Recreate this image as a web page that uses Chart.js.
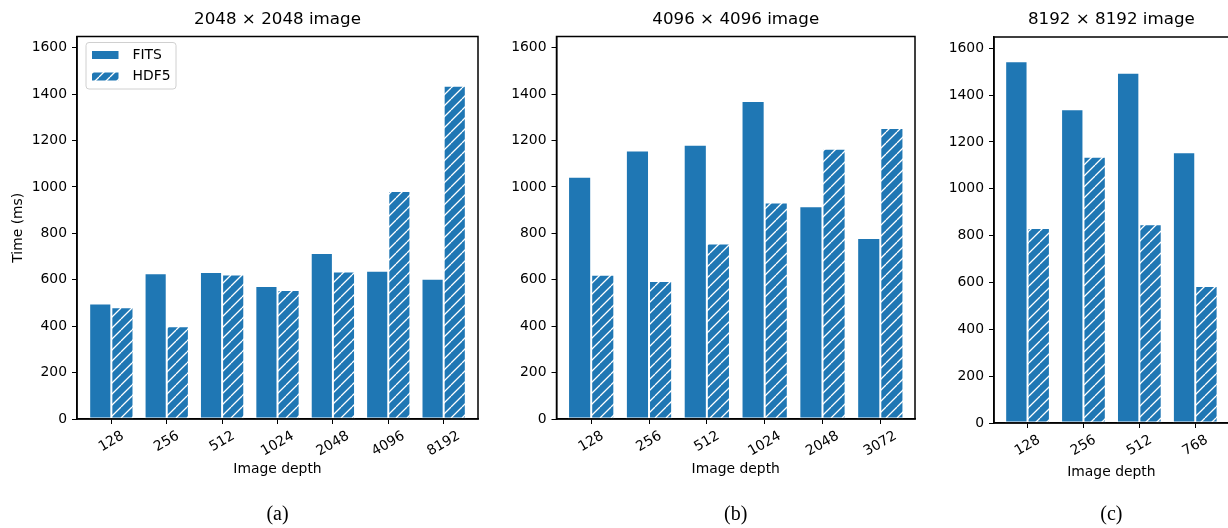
<!DOCTYPE html>
<html><head><meta charset="utf-8">
<script src="https://cdn.jsdelivr.net/npm/chart.js@4.4.1/dist/chart.umd.min.js"></script>
<style>
html,body{margin:0;padding:0;background:#fff;overflow:hidden;width:1228px;height:528px;}
canvas{position:absolute;top:0;}
</style></head><body>
<canvas id="ca" width="490" height="528" style="left:0px"></canvas>
<canvas id="cb" width="440" height="528" style="left:490px"></canvas>
<canvas id="cc" width="300" height="528" style="left:930px"></canvas>
<script>
// ---------- data ----------
const seriesNames = ['FITS', 'HDF5'];
const depthsA = ['128', '256', '512', '1024', '2048', '4096', '8192'];
const fitsA   = [498, 628, 633, 573, 715, 639, 604];
const hdf5A   = [481, 400, 623, 556, 636, 982, 1436];
const depthsB = ['128', '256', '512', '1024', '2048', '3072'];
const fitsB   = [1044, 1157, 1182, 1370, 917, 780];
const hdf5B   = [621, 595, 756, 933, 1164, 1254];
const depthsC = ['128', '256', '512', '768'];
const fitsC   = [1545, 1340, 1495, 1156];
const hdf5C   = [833, 1137, 849, 585];
const yTickValues = [0, 200, 400, 600, 800, 1000, 1200, 1400, 1600];
const titles = ['2048 \u00d7 2048 image', '4096 \u00d7 4096 image', '8192 \u00d7 8192 image'];
const captions = ['(a)', '(b)', '(c)'];
const xAxisTitle = 'Image depth';
const yAxisTitle = 'Time (ms)';

// ---------- style ----------
const FAM = '"DejaVu Sans", sans-serif';
const FS = 13.9;
const BLUE = '#1f77b4';
Chart.defaults.color = '#000';
Chart.defaults.font.family = FAM;

function hatchPattern(color, s) {
  const c = document.createElement('canvas');
  c.width = s; c.height = s;
  const g = c.getContext('2d');
  g.fillStyle = color; g.fillRect(0, 0, s, s);
  g.strokeStyle = '#fff'; g.lineWidth = 1.3;
  g.beginPath();
  for (const k of [-s, 0, s]) { g.moveTo(k, s); g.lineTo(k + s, 0); }
  g.stroke();
  return g.createPattern(c, 'repeat');
}
const HATCH = hatchPattern(BLUE, 11);

const framePlugin = {
  id: 'frame',
  afterDraw(chart) {
    const a = chart.chartArea, ctx = chart.ctx;
    ctx.save();
    ctx.strokeStyle = '#000'; ctx.lineWidth = 1.5;
    ctx.strokeRect(a.left, a.top, a.right - a.left, a.bottom - a.top);
    ctx.restore();
  }
};

const xLabelPlugin = {
  id: 'xlab',
  afterDraw(chart, args, opts) {
    const s = chart.scales.x, ctx = chart.ctx;
    const ang = Math.PI / 6;
    ctx.save();
    ctx.font = FS + 'px ' + FAM;
    ctx.fillStyle = '#000';
    ctx.textAlign = 'center';
    ctx.textBaseline = 'middle';
    const yTop = chart.chartArea.bottom + 5 + 5;
    s.ticks.forEach(t => {
      const txt = opts.labels[t.value];
      const w = ctx.measureText(txt).width;
      const bb = w * Math.sin(ang) + 14 * Math.cos(ang);
      ctx.save();
      ctx.translate(s.getPixelForValue(t.value), yTop + bb / 2);
      ctx.rotate(-ang);
      ctx.fillText(txt, 0, 0);
      ctx.restore();
    });
    ctx.restore();
  }
};

const legendPlugin = {
  id: 'boxlegend',
  afterDraw(chart, args, opts) {
    if (!opts.show) return;
    const ctx = chart.ctx;
    const a = chart.chartArea;
    const L = a.left + 9, T = a.top + 6, W = 90, H = 46.5;
    ctx.save();
    ctx.beginPath();
    ctx.roundRect(L, T, W, H, 3);
    ctx.fillStyle = 'rgba(255,255,255,0.8)';
    ctx.fill();
    ctx.strokeStyle = '#d0d0d0'; ctx.lineWidth = 1;
    ctx.stroke();
    ctx.font = FS + 'px ' + FAM;
    ctx.textAlign = 'left'; ctx.textBaseline = 'middle';
    chart.data.datasets.forEach((ds, i) => {
      const cy = T + 12.5 + i * 21.5;
      ctx.fillStyle = ds.backgroundColor;
      ctx.fillRect(L + 5.5, cy - 4.5, 27.5, 9);
      ctx.strokeStyle = '#fff'; ctx.lineWidth = 1;
      ctx.strokeRect(L + 5.5, cy - 4.5, 27.5, 9);
      ctx.fillStyle = '#000';
      ctx.fillText(ds.label, L + 46.5, cy);
    });
    ctx.restore();
  }
};

function makeChart(id, labels, fits, hdf5, title, caption, g) {
  const toPts = arr => arr.map((v, i) => ({ x: i, y: v }));
  const dsBase = { borderColor: '#ffffff', borderWidth: 1, borderSkipped: false,
                   categoryPercentage: 0.8, barPercentage: 1.0 };
  return new Chart(document.getElementById(id), {
    type: 'bar',
    data: {
      datasets: [
        Object.assign({ label: seriesNames[0], data: toPts(fits), backgroundColor: BLUE }, dsBase),
        Object.assign({ label: seriesNames[1], data: toPts(hdf5), backgroundColor: HATCH }, dsBase)
      ]
    },
    options: {
      responsive: false, animation: false, events: [],
      layout: { padding: { left: 0, right: g.padR, top: 0, bottom: 0 } },
      plugins: {
        legend: { display: false },
        tooltip: { enabled: false },
        title: { display: true, text: title, color: '#000', fullSize: false,
                 font: { family: FAM, size: 16.7, weight: 'normal' },
                 padding: { top: 10, bottom: g.top - 30.04 } },
        subtitle: { display: true, text: caption, position: 'bottom', color: '#000', fullSize: false,
                    font: { family: '"Liberation Serif", serif', size: 20, weight: 'normal' },
                    padding: { top: 0, bottom: 1 } },
        xlab: { labels: labels },
        boxlegend: { show: !!g.legend }
      },
      scales: {
        x: {
          type: 'linear', min: g.xmin, max: labels.length - 1 + g.xmax, offset: false,
          afterBuildTicks: s => { s.ticks = labels.map((_, i) => ({ value: i })); },
          ticks: { display: false },
          grid: { display: true, offset: false, drawOnChartArea: false, drawTicks: true, tickLength: 5, color: '#000', lineWidth: 1 },
          border: { display: true, color: '#000', width: 1.5 },
          title: { display: true, text: xAxisTitle, color: '#000',
                   font: { family: FAM, size: FS }, padding: { top: 0, bottom: g.xtPad } },
          afterFit: s => { s.height = 503 - g.bottom; }
        },
        y: {
          min: 0, max: 1648,
          afterBuildTicks: s => { s.ticks = yTickValues.map(v => ({ value: v })); },
          ticks: { color: '#000', font: { family: FAM, size: FS }, padding: 5, autoSkip: false,
                   callback: v => String(v) },
          grid: { display: true, drawOnChartArea: false, drawTicks: true, tickLength: 5, color: '#000', lineWidth: 1 },
          border: { display: true, color: '#000', width: 1.5 },
          title: { display: !!g.ytitle, text: yAxisTitle, color: '#000',
                   font: { family: FAM, size: FS }, padding: { top: 9.7, bottom: 0 } },
          afterFit: s => { s.width = g.yW; }
        }
      }
    },
    plugins: [framePlugin, xLabelPlugin, legendPlugin]
  });
}

makeChart('ca', depthsA, fitsA, hdf5A, titles[0], captions[0],
  { padR: 12, top: 36.5, bottom: 419, yW: 77, xmin: -0.62, xmax: 0.62, xtPad: 25.7, ytitle: true, legend: true });
makeChart('cb', depthsB, fitsB, hdf5B, titles[1], captions[1],
  { padR: 15, top: 36.5, bottom: 419, yW: 66.5, xmin: -0.6, xmax: 0.6, xtPad: 25.7 });
makeChart('cc', depthsC, fitsC, hdf5C, titles[2], captions[2],
  { padR: 1.2, top: 37, bottom: 423, yW: 64, xmin: -0.6, xmax: 0.6, xtPad: 22.7 });
</script>
</body></html>
